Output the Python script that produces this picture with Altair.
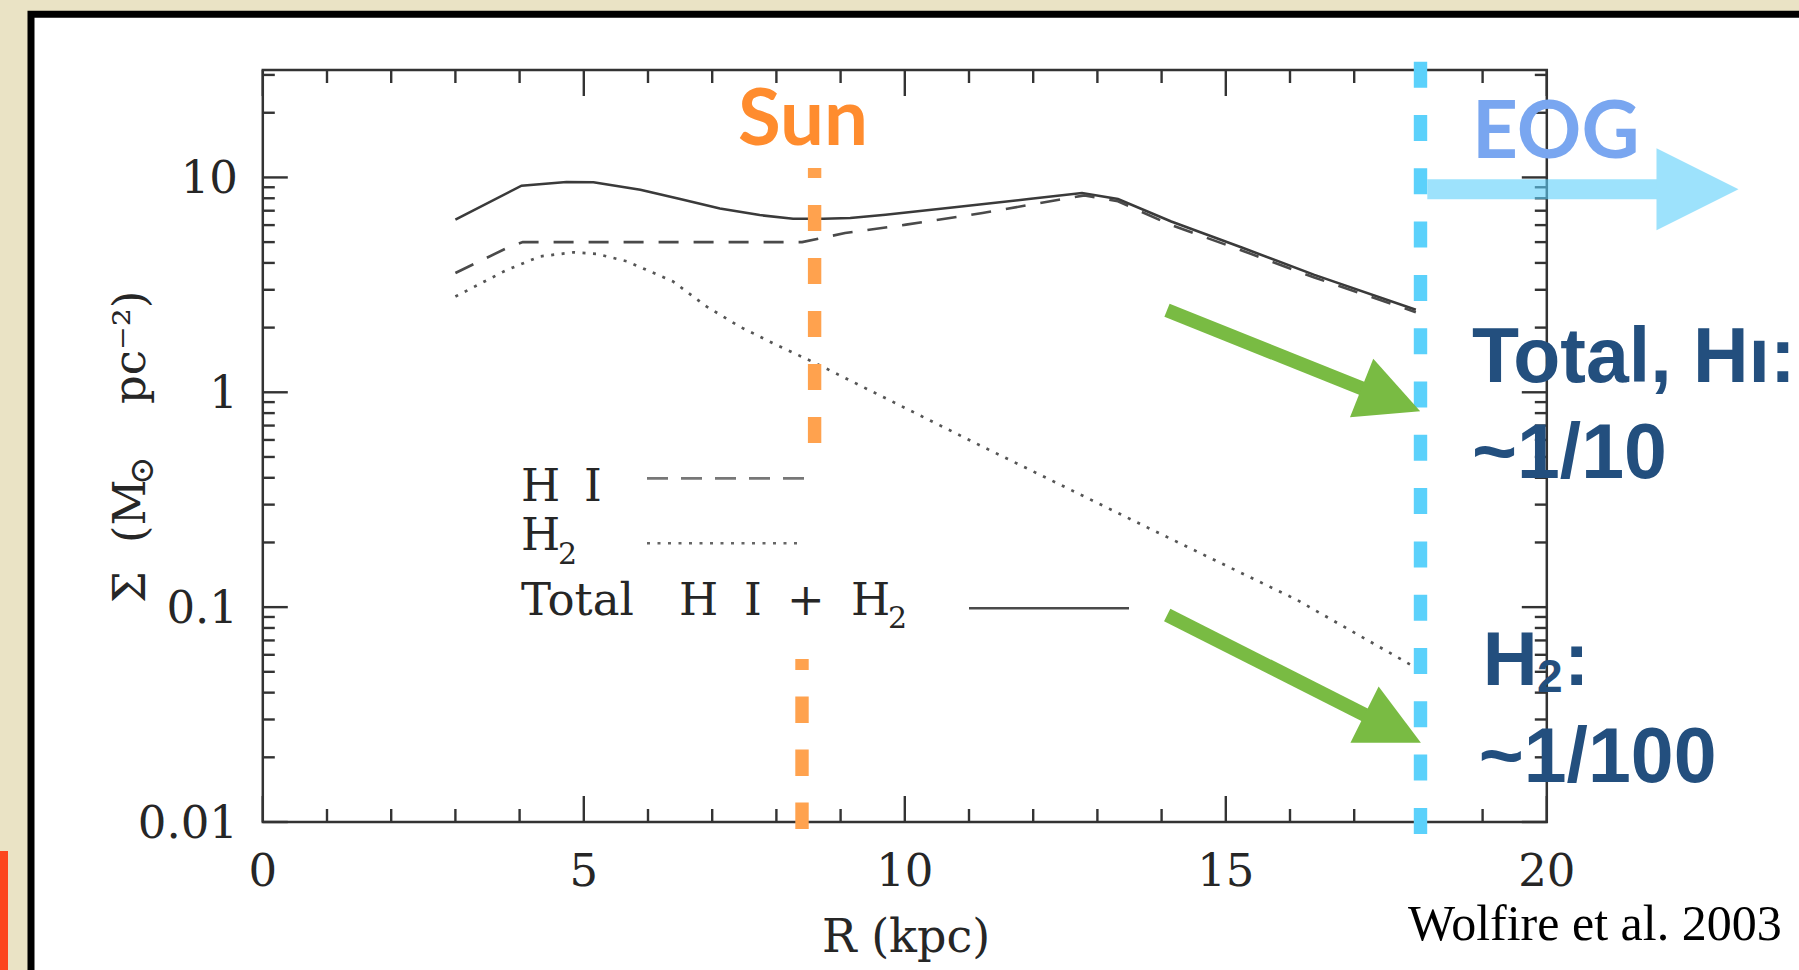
import altair as alt
import pandas as pd

# ---------------- data ----------------
total_R = [3.0, 4.03, 4.73, 5.15, 5.88, 6.5, 7.12, 7.74, 8.26, 8.73, 9.15, 9.7, 10.81, 11.93, 12.76, 13.32, 14.15, 15.27, 16.38, 17.96]
total_S = [6.36, 9.15, 9.52, 9.5, 8.77, 7.93, 7.17, 6.68, 6.42, 6.42, 6.47, 6.70, 7.28, 7.93, 8.46, 7.93, 6.24, 4.69, 3.52, 2.42]

hi_R = [3.0, 3.8, 4.05, 6.0, 8.4, 9.07, 10.02, 11.21, 12.4, 12.8, 13.32, 14.15, 15.27, 16.38, 17.96]
hi_S = [3.59, 4.69, 5.0, 5.0, 5.0, 5.51, 6.03, 6.83, 7.87, 8.25, 7.75, 6.0, 4.55, 3.42, 2.36]

h2_R = [3.0, 3.8, 4.32, 4.84, 5.2, 5.67, 6.39, 6.91, 7.43, 7.95, 8.6, 11.1, 13.96, 16.11, 17.89]
h2_S = [2.79, 3.71, 4.29, 4.48, 4.41, 4.07, 3.28, 2.51, 2.02, 1.69, 1.37, 0.58, 0.221, 0.108, 0.0537]

x_major = [0, 5, 10, 15, 20]
x_labels = ["0", "5", "10", "15", "20"]
x_minor = [1, 2, 3, 4, 6, 7, 8, 9, 11, 12, 13, 14, 16, 17, 18, 19]
y_major = [0.01, 0.1, 1, 10]
y_labels = ["0.01", "0.1", "1", "10"]
y_minor = [0.02, 0.03, 0.04, 0.05, 0.06, 0.07, 0.08, 0.09,
           0.2, 0.3, 0.4, 0.5, 0.6, 0.7, 0.8, 0.9,
           2, 3, 4, 5, 6, 7, 8, 9, 20, 30]

# ---------------- layout ----------------
W, H = 1284, 752
OX, OY = 262.8, 70.0          # plot origin on the page


def px(X):
    return X - OX


def py(Y):
    return Y - OY


lines = pd.concat([
    pd.DataFrame({"series": "Total", "R": total_R, "S": total_S}),
    pd.DataFrame({"series": "HI", "R": hi_R, "S": hi_S}),
    pd.DataFrame({"series": "H2", "R": h2_R, "S": h2_S}),
])
one = pd.DataFrame({"k": [0]})

x_scale = alt.Scale(domain=[0, 20], nice=False, zero=False)
y_scale = alt.Scale(type="log", domain=[0.01, 31.6228], nice=False)

SERIF = "DejaVu Serif"
INK = "#262626"
AX = "#333333"

layers = []

# slide frame (white card with black border) and red scribble
layers.append(alt.Chart(one).mark_rect(fill="white", stroke="black", strokeWidth=7).encode(
    x=alt.value(px(31)), x2=alt.value(px(1900)), y=alt.value(py(14.3)), y2=alt.value(py(1100))))
layers.append(alt.Chart(one).mark_rect(fill="#FF2A00", opacity=0.85).encode(
    x=alt.value(px(0)), x2=alt.value(px(8)), y=alt.value(py(851)), y2=alt.value(py(975))))

# data lines
dd = alt.Chart(lines).encode(
    x=alt.X("R:Q", scale=x_scale, axis=None),
    y=alt.Y("S:Q", scale=y_scale, axis=None),
    order="R:Q",
)
layers.append(dd.transform_filter(alt.datum.series == "Total").mark_line(
    color="#3a3a3a", strokeWidth=2.6))
layers.append(dd.transform_filter(alt.datum.series == "HI").mark_line(
    color="#4a4a4a", strokeWidth=2.6, strokeDash=[20, 15]))
layers.append(dd.transform_filter(alt.datum.series == "H2").mark_line(
    color="#555555", strokeWidth=2.7, strokeDash=[3, 7.5]))

# plot box
layers.append(alt.Chart(one).mark_rect(fill="transparent", stroke=AX, strokeWidth=2.5).encode(
    x=alt.value(0), x2=alt.value(W), y=alt.value(0), y2=alt.value(H)))

# inward ticks on all four sides
xmaj = pd.DataFrame({"v": x_major, "lab": x_labels})
xmin = pd.DataFrame({"v": x_minor})
ymaj = pd.DataFrame({"v": y_major, "lab": y_labels})
ymin = pd.DataFrame({"v": y_minor})
for dfv, ln in ((xmaj, 26), (xmin, 13)):
    xe = alt.X("v:Q", scale=x_scale, axis=None)
    layers.append(alt.Chart(dfv).mark_rule(color=AX, strokeWidth=2.4).encode(
        x=xe, y=alt.value(H), y2=alt.value(H - ln)))
    layers.append(alt.Chart(dfv).mark_rule(color=AX, strokeWidth=2.4).encode(
        x=xe, y=alt.value(0), y2=alt.value(ln)))
for dfv, ln in ((ymaj, 25), (ymin, 12)):
    ye = alt.Y("v:Q", scale=y_scale, axis=None)
    layers.append(alt.Chart(dfv).mark_rule(color=AX, strokeWidth=2.4).encode(
        y=ye, x=alt.value(0), x2=alt.value(ln)))
    layers.append(alt.Chart(dfv).mark_rule(color=AX, strokeWidth=2.4).encode(
        y=ye, x=alt.value(W), x2=alt.value(W - ln)))

# tick labels (drawn through the same scales)
layers.append(alt.Chart(xmaj).mark_text(font=SERIF, fontSize=45, color=INK, align="center",
                                        baseline="alphabetic").encode(
    x=alt.X("v:Q", scale=x_scale, axis=None), y=alt.value(py(885.5)), text="lab:N"))
layers.append(alt.Chart(ymaj).mark_text(font=SERIF, fontSize=45, color=INK, align="right",
                                        baseline="middle", dy=2).encode(
    y=alt.Y("v:Q", scale=y_scale, axis=None), x=alt.value(px(238)), text="lab:N"))


def txt(s, X, Y, size, color, font, weight="normal", style="normal", align="left",
        baseline="alphabetic", angle=0):
    return alt.Chart(one).mark_text(text=s, align=align, baseline=baseline, font=font,
                                    fontSize=size, fontWeight=weight, fontStyle=style,
                                    angle=angle, color=color).encode(
        x=alt.value(px(X)), y=alt.value(py(Y)))


def seg(X1, Y1, X2, Y2, color, width, dash=None, offset=0, opacity=1.0, cap="butt"):
    kw = dict(color=color, strokeWidth=width, opacity=opacity, strokeCap=cap)
    if dash:
        kw["strokeDash"] = dash
        kw["strokeDashOffset"] = offset
    return alt.Chart(one).mark_rule(**kw).encode(
        x=alt.value(px(X1)), x2=alt.value(px(X2)), y=alt.value(py(Y1)), y2=alt.value(py(Y2)))


HEAD = "M -1 -1 L 1 0 L -1 1 Z"


def head(X, Y, side, angle, color, opacity=1.0):
    return alt.Chart(one).mark_point(shape=HEAD, filled=True, size=side * side, angle=angle,
                                     color=color, opacity=opacity, strokeWidth=0).encode(
        x=alt.value(px(X)), y=alt.value(py(Y)))


# axis titles
layers.append(txt("R  (kpc)", 906, 952, 46, INK, SERIF, align="center"))
for s, X, Y, sz in [("Σ", 145, 603, 45), ("(M", 145, 543, 45), ("⊙", 153, 485, 34),
                    ("pc⁻²)", 145, 404, 45)]:
    layers.append(txt(s, X, Y, sz, INK, SERIF, angle=270))

# legend inside the plot (words placed one by one to keep the wide spacing)
LG = 45
for s, X, Y, sz in [("H", 521, 501, LG), ("I", 584, 501, LG),
                    ("H", 521, 550, LG), ("2", 558, 564, 30),
                    ("Total", 521, 615, LG), ("H", 679, 615, LG), ("I", 744, 615, LG),
                    ("+", 787, 615, LG), ("H", 851, 615, LG), ("2", 888, 628, 30)]:
    layers.append(txt(s, X, Y, sz, INK, SERIF))
layers.append(seg(647, 478.3, 809, 478.3, "#777777", 2.8, dash=[21, 13]))
layers.append(seg(647, 543.3, 803, 543.3, "#666666", 2.6, dash=[3, 7.5]))
layers.append(seg(969, 608.3, 1129, 608.3, "#4a4a4a", 2.6))

# Sun marker
SUN = "#FFA24E"
layers.append(seg(814.6, 168, 814.6, 446, SUN, 13.4, dash=[26, 27], offset=16))
layers.append(seg(802, 659, 802, 829, SUN, 13.4, dash=[26.5, 26.5], offset=15.5))
layers.append(txt("Sun", 803, 145, 78, "#FF8C2E", "Lato", weight="bold", align="center"))

# EOG marker
CY = "#5BD1FB"
layers.append(seg(1420.5, 61.7, 1420.5, 834, CY, 13.4, dash=[26, 27.3]))
layers.append(seg(1427.3, 189.3, 1656.7, 189.3, "#5CCFFA", 20, opacity=0.6))
layers.append(head(1697.5, 189.2, 82, 0, "#5CCFFA", opacity=0.6))
layers.append(txt("EOG", 1472, 158, 80, "#79A6F0", "Lato", weight="bold"))

# green arrows
GR = "#79BB43"
layers.append(seg(1167, 310.3, 1366, 390, GR, 14))
layers.append(head(1390.9, 399.6, 63, 21.7, GR))
layers.append(seg(1167.2, 615, 1369, 717, GR, 14))
layers.append(head(1392.7, 728.7, 63, 26.6, GR))

# right-hand notes
NAVY = "#234F7E"
SANS = "Liberation Sans"
layers.append(txt("Total, Hı:", 1472, 381.7, 77, NAVY, SANS, weight="bold"))
layers.append(txt("~1/10", 1472, 478.3, 77, NAVY, SANS, weight="bold"))
layers.append(txt("H", 1482.7, 685, 76, NAVY, SANS, weight="bold"))
layers.append(txt("2", 1537, 692, 46, NAVY, SANS, weight="bold"))
layers.append(txt(":", 1564, 685, 76, NAVY, SANS, weight="bold"))
layers.append(txt("~1/100", 1478.8, 781.7, 77, NAVY, SANS, weight="bold"))
layers.append(txt("Wolfire et al. 2003", 1408, 940, 50, "black", "Liberation Serif"))

chart = alt.layer(*layers).properties(
    width=W, height=H,
    autosize=alt.AutoSizeParams(type="none"),
    padding={"left": OX, "top": OY, "right": 1799 - OX - W, "bottom": 970 - OY - H},
    background="#EAE3C5",
).configure_view(strokeWidth=0)

chart.save("out.html", embed_options={"renderer": "svg", "actions": False})
